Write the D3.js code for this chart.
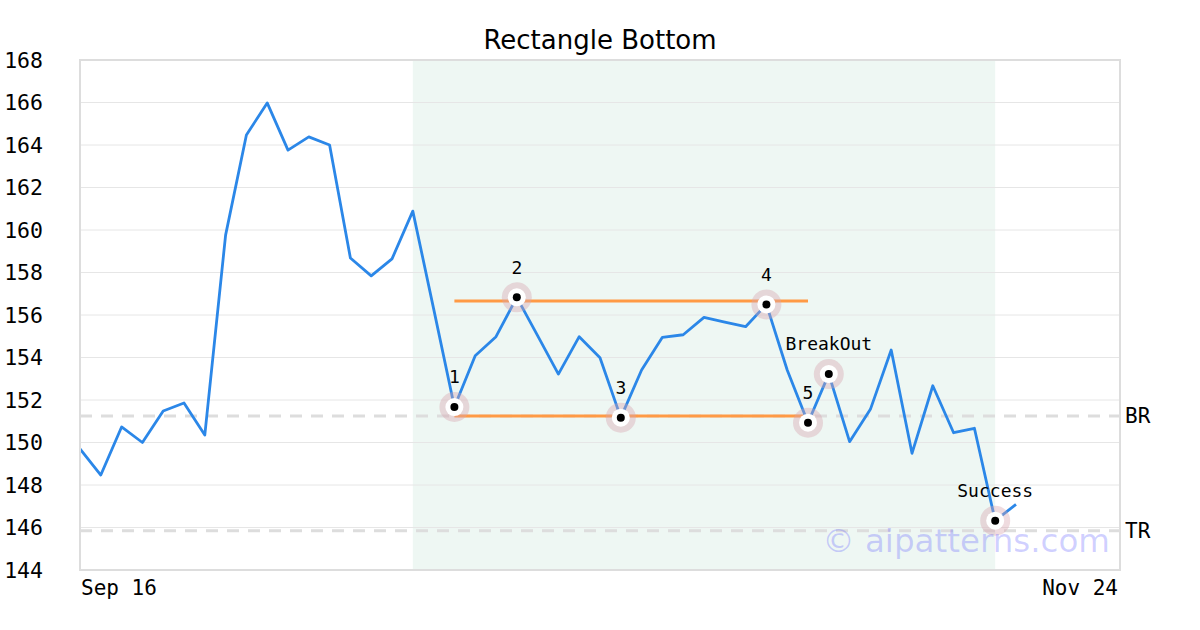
<!DOCTYPE html>
<html>
<head>
<meta charset="utf-8">
<script src="https://cdn.jsdelivr.net/npm/d3@7"></script>
<style>
    body { margin: 0; background: #fff; }
    svg { display: block; }
</style>
</head>
<body>
<div id="container"></div>
<script>
"use strict"

// closing prices, one per trading day
const prices = [
    149.7, 148.47, 150.73, 150.0, 151.48, 151.86, 150.35, 159.76, 164.47, 165.98,
    163.76, 164.38, 164.0, 158.68, 157.84, 158.64, 160.89, 156.3, 151.67, 154.08,
    154.98, 156.83, 155.03, 153.22, 154.98, 153.99, 151.17, 153.41, 154.95, 155.07,
    155.89, 155.67, 155.45, 156.5, 153.41, 150.93, 153.22, 150.04, 151.56, 154.35,
    149.49, 152.67, 150.46, 150.67, 146.32, 147.09
];
const totalSlots = 51;
const xTickLabels = ["Sep 16", "Nov 24"];
const xTickIndex = [0, 50];
const yTicks = [144, 146, 148, 150, 152, 154, 156, 158, 160, 162, 164, 166, 168];

// pattern points
const markerIndex = [18, 21, 26, 33, 35, 36, 44];
const markerLabels = ["1", "2", "3", "4", "5", "BreakOut", "Success"];
const zoneRange = [16, 44];
const topLine = { from: 18, to: 35, value: 156.66 };
const bottomLine = { from: 18, to: 35, value: 151.25 };
const levelNames = ["BR", "TR"];
const levelValues = [151.25, 145.85];

const width = 1200;
const height = 630;
const plot = { left: 80, right: 1120, top: 60, bottom: 570 };
const mono = "'DejaVu Sans Mono', monospace";
const sans = "'DejaVu Sans', sans-serif";

const x = d3.scaleLinear().domain([0, totalSlots - 1]).range([plot.left, plot.right]);
const y = d3.scaleLinear().domain([144, 168]).range([plot.bottom, plot.top]);

const svg = d3.select("#container").append("svg")
    .attr("width", width)
    .attr("height", height);

// title
svg.append("text")
    .attr("x", 600)
    .attr("y", 49)
    .attr("text-anchor", "middle")
    .attr("font-family", sans)
    .attr("font-size", 26)
    .text("Rectangle Bottom");

// shaded pattern zone
svg.append("rect")
    .attr("x", x(zoneRange[0]))
    .attr("y", plot.top)
    .attr("width", x(zoneRange[1]) - x(zoneRange[0]))
    .attr("height", plot.bottom - plot.top)
    .attr("fill", "#eef7f3");

// grid
svg.append("g")
    .selectAll("line")
    .data(yTicks.slice(1, -1))
    .enter()
    .append("line")
    .attr("x1", plot.left)
    .attr("x2", plot.right)
    .attr("y1", d => y(d))
    .attr("y2", d => y(d))
    .attr("stroke", "#e6e6e6")
    .attr("stroke-width", 1);

// y tick labels
svg.append("g")
    .selectAll("text")
    .data(yTicks)
    .enter()
    .append("text")
    .attr("x", 43)
    .attr("y", d => y(d))
    .attr("dy", "0.35em")
    .attr("text-anchor", "end")
    .attr("font-family", mono)
    .attr("font-size", 21.5)
    .text(d => d);

// x tick labels
svg.append("g")
    .selectAll("text")
    .data(xTickLabels)
    .enter()
    .append("text")
    .attr("x", (d, i) => i == 0 ? x(xTickIndex[i]) + 1 : x(xTickIndex[i]) - 2)
    .attr("y", 595)
    .attr("text-anchor", (d, i) => i == 0 ? "start" : "end")
    .attr("font-family", mono)
    .attr("font-size", 21)
    .text(d => d);

// BR / TR dashed levels
svg.append("g")
    .selectAll("line")
    .data(levelValues)
    .enter()
    .append("line")
    .attr("x1", plot.left)
    .attr("x2", plot.right)
    .attr("y1", d => y(d))
    .attr("y2", d => y(d))
    .attr("stroke", "#dddddd")
    .attr("stroke-width", 3)
    .attr("stroke-dasharray", "12,9");

svg.append("g")
    .selectAll("text")
    .data(levelNames)
    .enter()
    .append("text")
    .attr("x", 1125)
    .attr("y", (d, i) => y(levelValues[i]))
    .attr("dy", "0.35em")
    .attr("font-family", mono)
    .attr("font-size", 21)
    .text(d => d);

// rectangle bounds
svg.append("g")
    .selectAll("line")
    .data([topLine, bottomLine])
    .enter()
    .append("line")
    .attr("x1", d => x(d.from))
    .attr("x2", d => x(d.to))
    .attr("y1", d => y(d.value))
    .attr("y2", d => y(d.value))
    .attr("stroke", "#ff9a45")
    .attr("stroke-width", 3);

// price line
const line = d3.line()
    .x((d, i) => x(i))
    .y(d => y(d));

svg.append("path")
    .datum(prices)
    .attr("d", line)
    .attr("fill", "none")
    .attr("stroke", "#2b87e8")
    .attr("stroke-width", 2.8)
    .attr("stroke-linejoin", "round");

// markers
const markers = svg.append("g")
    .selectAll("g")
    .data(markerIndex)
    .enter()
    .append("g")
    .attr("transform", d => `translate(${x(d)},${y(prices[d])})`);

markers.append("circle")
    .attr("r", 15)
    .attr("fill", "rgba(215, 165, 175, 0.4)");
markers.append("circle")
    .attr("r", 9)
    .attr("fill", "#ffffff");
markers.append("circle")
    .attr("r", 4)
    .attr("fill", "#000000");
markers.append("text")
    .attr("y", -30)
    .attr("dy", "0.35em")
    .attr("text-anchor", "middle")
    .attr("font-family", mono)
    .attr("font-size", 18)
    .text((d, i) => markerLabels[i]);

// watermark
svg.append("text")
    .attr("x", 1110)
    .attr("y", 541)
    .attr("dy", "0.35em")
    .attr("text-anchor", "end")
    .attr("font-family", sans)
    .attr("font-size", 32.5)
    .attr("fill", "rgba(90, 90, 255, 0.28)")
    .text("© aipatterns.com");

// plot border
svg.append("rect")
    .attr("x", plot.left)
    .attr("y", plot.top)
    .attr("width", plot.right - plot.left)
    .attr("height", plot.bottom - plot.top)
    .attr("fill", "none")
    .attr("stroke", "#dddddd")
    .attr("stroke-width", 2);
</script>
</body>
</html>
